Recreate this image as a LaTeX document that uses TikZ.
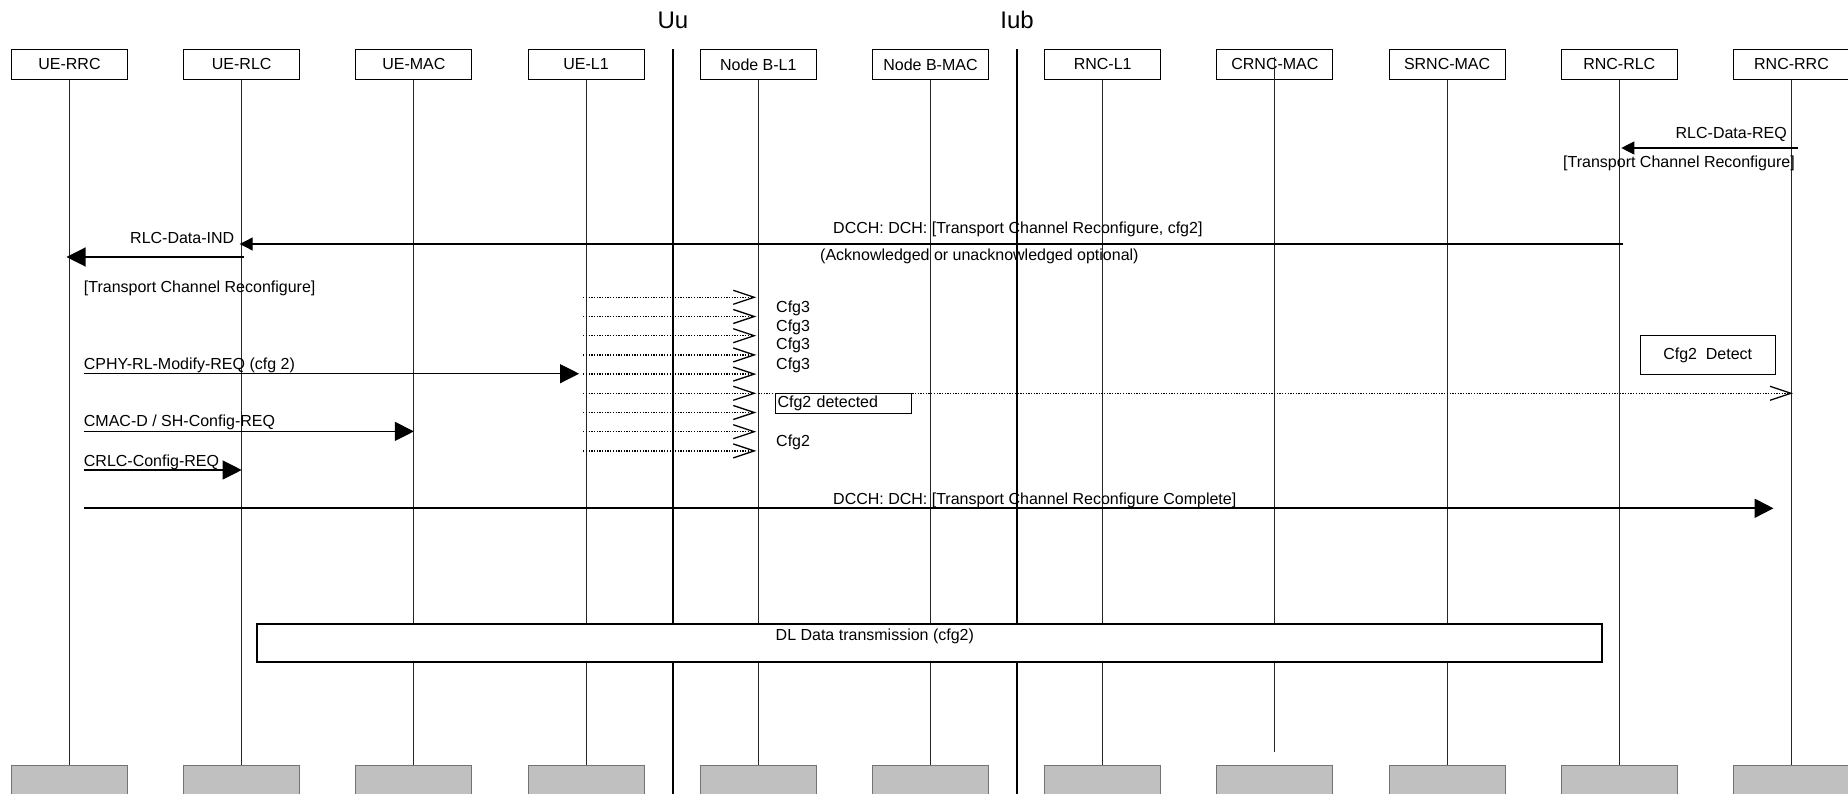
\documentclass[tikz,border=0pt]{standalone}
\usepackage{fontspec}
\setmainfont{Liberation Sans}
\usepackage{tikz}
\usetikzlibrary{arrows.meta,calc}
\definecolor{sinkgray}{RGB}{192,192,192}
\tikzset{
  entity/.style={rectangle,draw,line width=1pt,fill=white,inner sep=0pt,
    minimum width=116pt,minimum height=29.5pt},
  sink/.style={rectangle,draw=black!55,line width=1pt,fill=sinkgray,
    minimum width=116pt,minimum height=30pt},
  life/.style={line width=1pt,black!85},
  iface/.style={line width=2.2pt},
  iflabel/.style={font=\fontsize{24}{28}\selectfont,inner sep=0pt},
  lbl/.style={anchor=base west,inner sep=0pt},
  lblr/.style={anchor=base east,inner sep=0pt},
  msg/.style={line width=1.1pt,-{Triangle[length=19pt,width=19pt]}},
  bigmsg/.style={line width=2pt,-{Triangle[length=19pt,width=19pt]}},
  smsg/.style={line width=1.1pt,-{Triangle[length=13pt,width=13pt]}},
  ind/.style={line width=1.3pt,dash pattern=on 1.3pt off 1.4pt,
    -{Straight Barb[length=21pt,width=14pt,line width=1.3pt]}},
  notebox/.style={rectangle,draw,line width=1pt,minimum width=135pt,minimum height=38.6pt},
  tagbox/.style={rectangle,draw,line width=1pt,anchor=north west,inner xsep=2pt,inner ysep=0pt,
    text width=132pt,align=left,minimum height=20pt},
  dlbox/.style={rectangle,draw,line width=2pt,fill=white,minimum width=1344.7pt,minimum height=38.9pt},
}
\begin{document}
\begin{tikzpicture}[x=1pt,y=-1pt,font=\fontsize{16}{19.5}\selectfont]
\useasboundingbox (0,0) rectangle (1848,794);

% entities, top and bottom
\foreach \n/\t [count=\i from 0] in {uerrc/UE-RRC,uerlc/UE-RLC,uemac/UE-MAC,uel1/UE-L1,
    nbl1/Node B-L1,nbmac/Node B-MAC,rncl1/RNC-L1,crncmac/CRNC-MAC,srncmac/SRNC-MAC,
    rncrlc/RNC-RLC,rncrrc/RNC-RRC}{
  \node[entity] (\n) at (69.5+172.2*\i,64.3) {\t};
  \node[sink] (\n-b) at (69.5+172.2*\i,780) {};
}
\foreach \n in {uerrc,uerlc,uemac,uel1,nbl1,nbmac,rncl1,srncmac,rncrlc,rncrrc}
  \draw[life] (\n) -- (\n-b);
\draw[life] ([yshift=7pt]crncmac.center) -- ([yshift=13pt]crncmac-b.north);

% interfaces
\node[iflabel] (uu) at (673,20) {Uu};
\node[iflabel] (iub) at (1017,20) {Iub};
\draw[iface] (uu |- 0,49.5) -- (uu |- 0,794);
\draw[iface] (iub |- 0,49.5) -- (iub |- 0,794);

% RNC side request
\draw[smsg] ($(rncrrc |- 0,148)+(6,0)$) -- ($(rncrlc |- 0,148)+(2,0)$);
\node[lblr] (req) at (1787,138.5) {RLC-Data-REQ};
\node[lbl] (reqarg) at (1563,168) {[Transport Channel Reconfigure]};

% downlink DCCH
\draw[smsg] ($(rncrlc |- 0,244)+(4,0)$) -- ($(uerlc |- 0,244)+(-2,0)$);
\node[lbl] (dcch) at (833,234) {DCCH: DCH: [Transport Channel Reconfigure, cfg2]};
\node[lbl] (ack) at (820,261) {(Acknowledged or unacknowledged optional)};
\draw[msg] ($(uerlc |- 0,257)+(2,0)$) -- ($(uerrc |- 0,257)+(-3,0)$);
\node[lbl] (ind) at (130,244) {RLC-Data-IND};
\node[lbl] (indarg) at (83.7,293) {[Transport Channel Reconfigure]};

% frames on the radio link
\foreach \k in {0,...,8}{
  \pgfmathsetmacro\yy{297.3+19.2*\k}
  \draw[ind] ($(uel1 |- 0,\yy)+(-3,0)$) -- ($(nbl1 |- 0,\yy)+(-2,0)$);
}
\draw[ind] (nbl1 |- 0,393.3) -- ($(rncrrc |- 0,393.3)+(1.5,0)$);
\foreach \yb [count=\j] in {312.5,331.5,350,370}
  \node[lbl] (cfgt\j) at (776,\yb) {Cfg3};
\node[tagbox] (detected) at (775,393.3) {Cfg2 detected};
\node[lbl] (cfgn) at (776,446.5) {Cfg2};
\node[notebox] (detect) at (1707.7,355) {Cfg2\ \ Detect};

% UE configuration
\draw[msg] ($(uerrc |- 0,373.7)+(14,0)$) -- ($(uel1 |- 0,373.7)+(-7,0)$);
\node[lbl] (cphy) at (83.7,370) {CPHY-RL-Modify-REQ (cfg 2)};
\draw[msg] ($(uerrc |- 0,431.4)+(14,0)$) -- (uemac |- 0,431.4);
\node[lbl] (cmac) at (83.7,426.6) {CMAC-D / SH-Config-REQ};
\draw[msg] ($(uerrc |- 0,470)+(14,0)$) -- (uerlc |- 0,470);
\node[lbl] (crlc) at (83.7,466.7) {CRLC-Config-REQ};

% complete
\draw[bigmsg] ($(uerrc |- 0,508.3)+(14,0)$) -- ($(rncrrc |- 0,508.3)+(-18,0)$);
\node[lbl] (cmpl) at (833,504) {DCCH: DCH: [Transport Channel Reconfigure Complete]};

% data
\node[dlbox] (dl) at (929.4,643) {};
\node[lbl] (dltxt) at (775.5,640) {DL Data transmission (cfg2)};
\end{tikzpicture}
\end{document}
